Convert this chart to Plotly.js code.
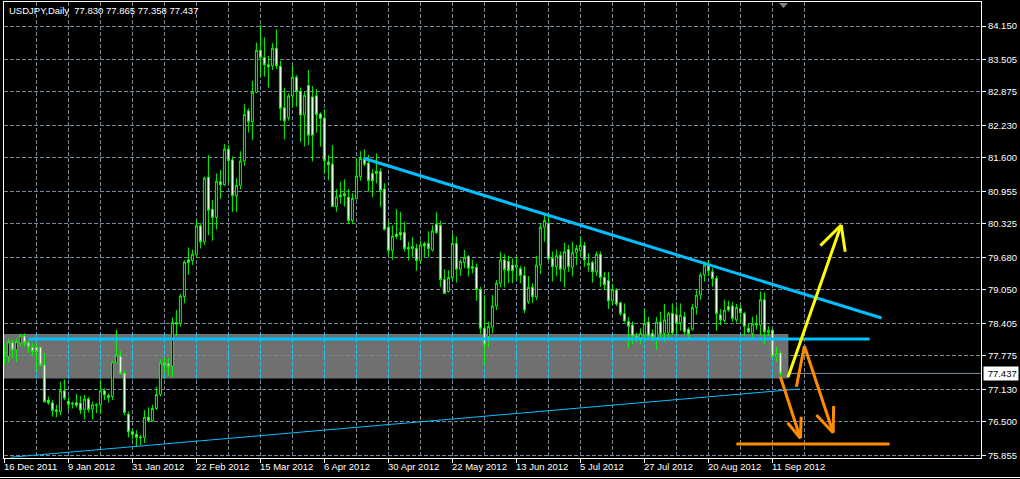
<!DOCTYPE html>
<html><head><meta charset="utf-8">
<script src="https://cdn.plot.ly/plotly-3.0.1.min.js"></script>
<style>html,body{margin:0;padding:0;background:#000;}#chart{width:1020px;height:479px;}</style>
</head><body><div id="chart"></div>
<script>
// ---- data (USDJPY daily, 16 Dec 2011 .. 13 Sep 2012) ----
const opens = [77.86,77.76,78.03,77.89,78.02,78.16,78.03,77.94,77.94,77.94,77.60,76.92,76.87,76.73,76.70,77.10,76.90,76.86,76.87,76.86,
76.74,76.94,76.75,76.83,76.83,77.10,77.01,76.99,77.64,77.77,77.44,76.65,76.31,76.26,76.21,76.20,76.59,76.52,76.76,77.03,
77.64,77.63,77.57,78.42,78.40,78.92,79.63,79.62,79.73,80.29,79.98,81.23,80.61,80.45,81.14,81.08,81.77,81.56,80.87,81.07,
81.54,82.51,82.30,82.87,83.68,83.54,83.40,83.38,83.72,83.37,82.57,82.38,82.80,83.16,82.89,82.43,83.00,82.78,82.80,82.45,
82.37,81.52,81.48,80.66,80.88,80.91,80.84,80.39,80.81,81.24,81.59,81.50,81.30,81.34,81.34,81.00,80.26,79.81,80.13,80.16,
80.16,79.87,79.89,79.85,79.62,79.94,79.95,79.82,80.32,80.30,79.25,79.02,79.29,79.95,79.45,79.58,79.70,79.50,79.49,79.06,
78.31,78.15,78.33,78.74,79.18,79.63,79.60,79.53,79.49,79.46,79.33,78.82,79.10,78.91,79.53,80.26,80.34,79.66,79.50,79.72,
79.45,79.83,79.49,79.77,79.81,79.91,79.56,79.58,79.40,79.74,79.29,79.23,78.84,79.05,78.80,78.59,78.44,78.37,78.16,78.13,
78.18,78.43,78.21,78.13,78.43,78.21,78.22,78.60,78.57,78.42,78.53,78.29,78.29,78.71,78.95,79.34,79.55,79.40,79.27,78.57,
78.46,78.73,78.74,78.47,78.69,78.59,78.31,78.21,78.40,78.37,78.86,78.22,78.27,77.77,77.830];
const highs = [78.02,78.11,78.08,78.11,78.20,78.21,78.08,78.02,78.02,77.95,77.83,76.99,76.92,76.83,77.28,77.32,76.99,76.89,77.04,77.00,
77.02,76.98,76.89,76.86,77.30,77.15,77.05,77.68,78.28,77.87,77.49,76.70,76.36,76.34,76.25,76.73,76.78,76.83,77.18,77.71,
77.75,77.73,78.52,78.66,78.97,79.62,79.87,79.83,80.40,80.34,81.24,81.66,80.79,81.30,81.37,81.87,81.85,81.63,81.21,81.73,
82.64,82.56,83.09,83.83,84.17,83.93,83.57,83.82,84.09,83.48,82.95,82.85,83.38,83.20,82.96,82.88,83.30,82.99,82.93,82.48,
82.54,81.66,81.85,81.00,81.13,81.19,81.00,80.92,81.59,81.73,81.77,81.66,81.38,81.69,81.40,81.11,80.37,80.30,80.61,80.56,
80.37,79.98,80.07,79.94,80.00,79.98,80.18,80.30,80.56,80.39,79.45,79.43,80.13,80.08,79.64,79.82,79.72,79.63,79.56,79.11,
78.95,78.44,78.95,79.24,79.79,79.74,79.71,79.66,79.69,79.51,79.50,79.32,79.18,79.71,80.32,80.53,80.52,79.79,79.83,79.79,
79.96,79.92,79.98,79.92,80.09,79.98,79.76,79.62,79.79,79.79,79.40,79.40,79.17,79.08,78.82,78.79,78.53,78.44,78.22,78.31,
78.68,78.53,78.29,78.53,78.63,78.78,78.63,78.79,78.73,78.79,78.63,78.33,78.78,79.05,79.38,79.60,79.63,79.47,79.32,78.68,
78.86,78.84,78.82,78.78,78.76,78.63,78.40,78.53,78.57,79.02,79.00,78.35,78.29,77.95,77.865];
const lows = [77.60,77.66,77.73,77.66,77.97,77.95,77.83,77.77,77.50,77.57,76.87,76.83,76.60,76.59,76.63,76.92,76.73,76.76,76.78,76.65,
76.55,76.68,76.55,76.67,76.65,76.92,76.87,76.92,77.63,77.41,76.63,76.20,76.16,76.02,76.05,76.09,76.50,76.50,76.73,76.99,
77.44,77.39,77.36,78.16,78.34,78.79,79.34,79.53,79.68,79.85,79.92,80.11,80.00,80.22,80.81,81.06,81.11,80.56,80.56,80.99,
81.45,82.09,81.95,82.85,83.17,83.17,82.96,83.30,83.32,82.32,81.96,82.32,82.59,82.59,81.91,81.82,81.85,81.53,82.09,81.82,
81.29,81.17,80.65,80.56,80.72,80.66,80.32,80.32,80.80,81.16,81.44,80.95,80.84,81.11,80.66,80.20,79.73,79.63,80.03,80.01,
79.79,79.62,79.69,79.42,79.56,79.68,79.68,79.79,80.13,79.11,78.97,79.00,79.24,79.19,79.32,79.47,79.31,79.37,78.84,78.20,
77.60,77.95,78.21,78.66,79.10,79.10,79.18,79.18,79.24,79.18,78.60,78.78,78.80,78.86,79.36,79.98,79.62,79.21,79.32,79.21,
79.10,79.40,79.31,79.53,79.69,79.50,79.40,79.19,79.32,79.11,79.05,78.68,78.76,78.74,78.55,78.42,77.92,78.00,78.05,78.00,
78.11,78.13,78.05,77.89,78.13,78.05,78.13,78.18,78.21,78.26,78.18,78.13,78.26,78.57,78.86,79.21,79.32,79.11,78.26,78.37,
78.42,78.63,78.44,78.42,78.41,78.16,78.21,78.13,78.28,78.16,77.99,78.16,77.76,77.66,77.358];
const closes = [77.83,78.05,77.89,78.05,78.16,78.03,77.95,77.86,77.86,77.60,76.89,76.87,76.72,76.70,77.10,76.96,76.84,76.85,76.82,76.73,
76.94,76.74,76.83,76.82,77.10,77.02,76.97,77.66,77.79,77.44,76.68,76.31,76.26,76.20,76.20,76.59,76.52,76.76,77.03,77.64,
77.60,77.57,78.42,78.39,78.93,79.59,79.58,79.74,80.29,79.98,81.21,80.59,80.45,81.15,81.08,81.77,81.55,80.87,81.07,81.54,
82.44,82.30,82.87,83.68,83.54,83.40,83.36,83.72,83.38,82.56,82.32,82.80,83.16,82.88,82.43,82.81,82.04,82.04,82.44,82.36,
81.55,81.47,80.66,80.85,80.85,80.87,80.39,80.82,81.25,81.59,81.48,81.16,81.16,81.30,80.97,80.22,79.81,80.09,80.08,80.11,
79.85,79.84,79.85,79.62,79.92,79.90,79.85,80.19,80.16,79.25,78.98,79.29,79.95,79.45,79.60,79.68,79.47,79.47,79.06,78.31,
78.00,78.34,78.74,79.18,79.63,79.44,79.42,79.42,79.53,79.33,78.66,79.10,78.92,79.53,80.26,80.39,79.65,79.50,79.71,79.45,
79.79,79.50,79.77,79.85,79.91,79.63,79.53,79.40,79.74,79.29,79.15,78.84,79.05,78.78,78.59,78.45,78.35,78.16,78.13,78.21,
78.40,78.16,78.13,78.43,78.20,78.47,78.59,78.22,78.40,78.56,78.24,78.20,78.71,78.95,79.34,79.53,79.42,79.27,78.59,78.47,
78.66,78.66,78.50,78.71,78.61,78.35,78.24,78.39,78.37,78.86,78.24,78.27,77.77,77.82,77.437];

const dateTickIdx = [0,16,32,48,64,80,96,112,128,144,160,176,192];
const dateTickText = ["16 Dec 2011","9 Jan 2012","31 Jan 2012","22 Feb 2012","15 Mar 2012","6 Apr 2012","30 Apr 2012",
  "22 May 2012","13 Jun 2012","5 Jul 2012","27 Jul 2012","20 Aug 2012","11 Sep 2012"];
const priceTicks = [84.150,83.505,82.875,82.230,81.600,80.955,80.325,79.680,79.050,78.405,77.775,77.130,76.500,75.855];
const headerText = "USDJPY,Daily  77.830 77.865 77.358 77.437";
const lastPrice = 77.437;

// drawn objects (bar index, price)
const zoneBox = {x0:-2, x1:196, y0:77.338, y1:78.198};
const supportLine = [[6,78.102],[216.3,78.102]];
const resistLine = [[89.8,81.594],[219.3,78.507]];
const lowerTrend = [[1.5,75.816],[198.8,77.136]];
const yellowArrow = [[195.9,77.362],[209.2,80.305]];
const yellowHead = [[204.0,79.905],[209.2,80.305],[210.2,79.789]];
const orangeA = [[194.0,77.373],[199.0,76.183]];
const orangeAHead = [[195.8,76.484],[199.0,76.183],[199.2,76.600]];
const orangeB = [[198.0,77.180],[200.0,77.966],[207.2,76.291]];
const orangeBHead = [[203.0,76.633],[207.2,76.291],[207.3,76.807]];
const targetLine = [[183.0,76.073],[221.3,76.073]];

// ---- geometry ----
const L=4, R=981, T=2, B=458, pxBar=4, pxYen=51.75;
const xRange=[-0.1, -0.1 + (R-L)/pxBar];
const yTop = 84.15 + (26-T)/pxYen;
const yRange=[yTop-(B-T)/pxYen, yTop];
const idx = opens.map((_,i)=>i);
const FONT = 'Liberation Sans, Arial, sans-serif';
const FS = 9.5;
const GRID = '#778899';
const GDASH = '4px,2px';
const BLUE = '#00BFFF', ORANGE='#FF8C00', YELLOW='#FFFF00';

const trace = {
  type:'candlestick', x:idx, open:opens, high:highs, low:lows, close:closes,
  increasing:{line:{color:'#00FF00',width:1}, fillcolor:'#000000'},
  decreasing:{line:{color:'#00FF00',width:1}, fillcolor:'#FFFFFF'},
  whiskerwidth:0, hoverinfo:'skip', showlegend:false
};

function seg(pts, color, width, layer, dash){
  const out=[];
  for(let k=0;k<pts.length-1;k++){
    out.push({type:'line', xref:'x', yref:'y', x0:pts[k][0], y0:pts[k][1], x1:pts[k+1][0], y1:pts[k+1][1],
      line:{color:color, width:width, dash:dash||'solid'}, layer:layer||'above'});
  }
  return out;
}

const shapes = [];
shapes.push({type:'rect', xref:'x', yref:'y', x0:zoneBox.x0, x1:zoneBox.x1, y0:zoneBox.y0, y1:zoneBox.y1,
  fillcolor:'#707070', line:{width:0}, layer:'below'});
for(let g=8; g<=zoneBox.x1; g+=8){
  shapes.push({type:'line', xref:'x', yref:'y', x0:g, x1:g, y0:zoneBox.y0, y1:zoneBox.y1,
    line:{color:'#00D8FF', width:1, dash:GDASH}, layer:'between'});
}
shapes.push({type:'line', xref:'paper', yref:'y', x0:0, x1:1, y0:lastPrice, y1:lastPrice,
  line:{color:'#8090A0', width:1}, layer:'between'});
shapes.push(...seg(lowerTrend, BLUE, 1));
shapes.push(...seg(supportLine, BLUE, 3));
shapes.push(...seg(resistLine, BLUE, 3));
shapes.push(...seg(yellowArrow, YELLOW, 3));
shapes.push(...seg(yellowHead, YELLOW, 3));
shapes.push(...seg(orangeA, ORANGE, 3));
shapes.push(...seg(orangeAHead, ORANGE, 3));
shapes.push(...seg(orangeB, ORANGE, 3));
shapes.push(...seg(orangeBHead, ORANGE, 3));
shapes.push(...seg(targetLine, ORANGE, 3));
// chart-shift marker and bottom border
const pw=R-L, ph=B-T;
shapes.push({type:'path', xref:'paper', yref:'paper',
  path:`M ${(779-L)/pw} ${(B-3)/ph} L ${(788-L)/pw} ${(B-3)/ph} L ${(783.5-L)/pw} ${(B-8)/ph} Z`,
  fillcolor:'#808080', line:{width:0}});
shapes.push({type:'line', xref:'paper', yref:'paper', x0:-L/pw, x1:(1020-L)/pw, y0:(B-477.5)/ph, y1:(B-477.5)/ph,
  line:{color:'#FFFFFF', width:1}});

const annotations = [];
annotations.push({xref:'paper', yref:'paper', x:(7-L)/pw, y:(B-10.5)/ph, xanchor:'left', yanchor:'middle',
  text:headerText.replace(/  /g,'&nbsp; '), showarrow:false, font:{family:FONT, size:FS, color:'#FFFFFF'}});
dateTickIdx.forEach((d,k)=>{
  annotations.push({xref:'x', yref:'paper', x:d, y:(B-467)/ph, xanchor:'left', yanchor:'middle', xshift:-2,
    text:dateTickText[k], showarrow:false, font:{family:FONT, size:FS, color:'#FFFFFF'}});
});
annotations.push({xref:'paper', yref:'y', x:(983-L)/pw, y:lastPrice, xanchor:'left', yanchor:'middle',
  text:'&nbsp;'+lastPrice.toFixed(3), showarrow:false, bgcolor:'#FFFFFF', borderpad:1,
  font:{family:FONT, size:FS, color:'#000000'}});

const layout = {
  width:1020, height:479, margin:{l:L, r:1020-R, t:T, b:479-B},
  paper_bgcolor:'#000000', plot_bgcolor:'#000000', showlegend:false,
  boxgap:0.3,
  xaxis:{range:xRange, autorange:false, type:'linear', rangeslider:{visible:false},
    tickmode:'array', tickvals:dateTickIdx, showticklabels:false, ticks:'outside', ticklen:4, tickcolor:'#FFFFFF',
    showgrid:true, gridcolor:GRID, griddash:GDASH, gridwidth:1,
    minor:{tickmode:'array', tickvals:dateTickIdx.map(v=>v+8), showgrid:true, gridcolor:GRID, griddash:GDASH, gridwidth:1, ticks:''},
    showline:true, linecolor:'#FFFFFF', linewidth:1, mirror:true, zeroline:false, fixedrange:true},
  yaxis:{range:yRange, autorange:false, side:'right', tickmode:'array', tickvals:priceTicks,
    ticktext:priceTicks.map(v=>v.toFixed(3)), ticks:'outside', ticklen:4, tickcolor:'#FFFFFF',
    tickfont:{family:FONT, size:FS, color:'#FFFFFF'},
    showgrid:true, gridcolor:GRID, griddash:GDASH, gridwidth:1,
    showline:true, linecolor:'#FFFFFF', linewidth:1, mirror:true, zeroline:false, fixedrange:true},
  shapes:shapes, annotations:annotations
};
Plotly.newPlot('chart',[trace],layout,{staticPlot:true, displayModeBar:false});
</script></body></html>
